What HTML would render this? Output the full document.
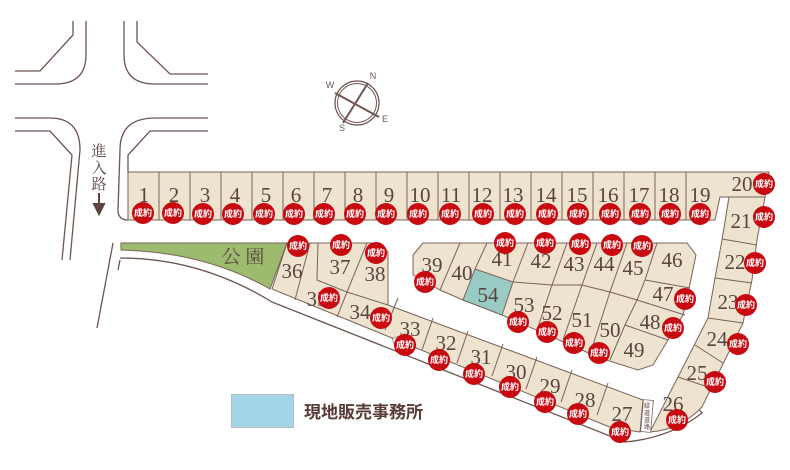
<!DOCTYPE html>
<html><head><meta charset="utf-8"><style>
html,body{margin:0;padding:0;background:#fff;}
svg{display:block;}
.n{font-family:"Liberation Serif",serif;font-size:21px;fill:#5a4440;text-anchor:middle;}
</style></head><body>
<svg width="790" height="470" viewBox="0 0 790 470" xmlns="http://www.w3.org/2000/svg">
<defs>
<g id="bd"><circle r="11" fill="#c80a10"/><text y="3.2" font-family="Liberation Sans,'Noto Sans CJK JP',sans-serif" font-size="9" font-weight="bold" fill="#ffffff" text-anchor="middle">成約</text></g>
</defs>
<g fill="none" stroke="#6e5550" stroke-width="1.3">
<path d="M73 21 V35 L40 71 H15"/>
<path d="M86 21 V55 Q86 84 55 84 H15"/>
<path d="M124 21 V55 Q124 84 155 84 H208"/>
<path d="M137 21 V42 L170 74 H208"/>
<path d="M15 118 H50 Q80 118 80 150 L70 260"/>
<path d="M15 131 H50 L72 155 L62 260"/>
<path d="M208 118 H155 Q120 118 120 150 L118 210 Q118 220 128 220"/>
<path d="M208 131 H150 L128 155 V172"/>
<path d="M113 243 L97 328"/>
<path d="M120 260 L118 270"/>
<path d="M120 258 Q200 258 272 302 L625 442 Q670 438 702 413 L697 407"/>
</g>
<g stroke="#6e5550" fill="none">
<circle cx="357" cy="103" r="22" stroke-width="1.2"/><circle cx="357" cy="103" r="19.5" stroke-width="1"/>
<path d="M368 83 L343 123 M335 93 L379 117" stroke-width="2"/>
</g>
<g font-family="Liberation Sans,sans-serif" font-size="9" fill="#6e5550" text-anchor="middle">
<text x="373" y="79">N</text><text x="330" y="88">W</text><text x="385" y="122">E</text><text x="342" y="131">S</text>
</g>
<g font-family="Liberation Serif,'Noto Serif CJK SC',serif" font-size="15" fill="#5a4440" text-anchor="middle">
<text x="99" y="156">進</text><text x="99" y="173">入</text><text x="99" y="189">路</text>
</g>
<path d="M99 193 V206 M94 204 L99 214 L104 204 Z" stroke="#5a4440" stroke-width="2" fill="#5a4440"/>
<g fill="#ede3cf" stroke="#7a625a" stroke-width="1">
<path d="M128 172 H769 L765 197 L757 240 L752 280 L743 323 L702 407 Q680 430 650 432 L652 428 L708 318 L715 278 L722 240 L729 197 L720 197 L715 220 H128 Z"/>
<path d="M287 243 H380 L388 252 V305 L643 400 L640 432 L612 428 L272 289 Z"/>
<path d="M413 255 L423 243 H687 L696 255 L687 298 L683 315 L668 340 L653 365 L638 370 L600 358 L502 315 L463 300 L440 290 L413 275 Z"/>
</g>
<path d="M121 243 H287 L270 289 Q205 252 121 250 Z" fill="#9dbb6e" stroke="#7a625a" stroke-width="1"/>
<path d="M475 269 L513 282 L502 315 L463 300 Z" fill="#99cbc4" stroke="#7a625a" stroke-width="1"/>
<g stroke="#7a625a" stroke-width="1" fill="none">
<path d="M159 172 V220 M190 172 V220 M221 172 V220 M252 172 V220 M283 172 V220 M314 172 V220 M345 172 V220 M376 172 V220 M407 172 V220 M438 172 V220 M469 172 V220 M500 172 V220 M531 172 V220 M562 172 V220 M593 172 V220 M624 172 V220 M655 172 V220 M686 172 V220"/>
<path d="M729 197 H765 M722 239 L757 245 M715 278 L752 283 M708 318 L743 323 M695 345 L723 363 M678 377 L708 387"/>
<path d="M310 243 L295 300 M318 243 L317 280 L347 292 L337 317 M367 243 L347 292 L388 305 M398 298 L385 330 M433 318 L422 350 M468 331 L457 363 M503 344 L492 376 M537 357 L526 389 M572 370 L561 402 M608 383 L597 415"/>
<path d="M460 243 L440 290 M487 243 L475 269 M528 243 L513 282 M567 243 L552 285 L537 330 M597 243 L582 285 L563 340 M627 243 L610 292 L592 348 M657 243 L645 280 L637 300 L625 325 L610 360 M513 282 L552 285 L582 285 L610 292 L637 300 M645 280 L690 288 M637 300 L685 315 M625 325 L668 340"/>
</g>
<rect x="642" y="400" width="10" height="32" fill="#fff" stroke="#7a625a" stroke-width="0.8" transform="rotate(5 647 416)"/>
<g font-family="Liberation Sans,'Noto Sans CJK JP',sans-serif" font-size="6" fill="#5a4440" text-anchor="middle">
<text x="647" y="408">緑</text><text x="647" y="415">道</text><text x="647" y="422">道</text><text x="647" y="429">路</text>
</g>
<rect x="396" y="333" width="9" height="14" fill="#fff" stroke="#7a625a" stroke-width="0.6" transform="rotate(68 400 340)"/>
<text x="243" y="263" font-family="Liberation Serif,'Noto Serif CJK SC',serif" font-size="19" fill="#5a4440" text-anchor="middle">公 園</text>
<g class="n">
<text x="144" y="202">1</text><text x="174" y="202">2</text><text x="205" y="202">3</text><text x="235" y="202">4</text><text x="266" y="202">5</text><text x="296" y="202">6</text><text x="327" y="202">7</text><text x="358" y="202">8</text><text x="389" y="202">9</text><text x="420" y="202">10</text><text x="451" y="202">11</text><text x="482" y="202">12</text><text x="513" y="202">13</text><text x="546" y="202">14</text><text x="577" y="202">15</text><text x="608" y="202">16</text><text x="639" y="202">17</text><text x="669" y="202">18</text><text x="700" y="202">19</text>
<text x="742" y="191">20</text><text x="741" y="228">21</text><text x="735" y="269">22</text><text x="728" y="309">23</text><text x="717" y="346">24</text><text x="697" y="380">25</text><text x="673" y="411">26</text>
<text x="622" y="421">27</text><text x="585" y="407">28</text><text x="550" y="393">29</text><text x="516" y="379">30</text><text x="481" y="364">31</text><text x="446" y="350">32</text><text x="410" y="336">33</text><text x="360" y="319">34</text><text x="317" y="306">35</text><text x="292" y="278">36</text><text x="340" y="274">37</text><text x="375" y="281">38</text>
<text x="432" y="272">39</text><text x="462" y="280">40</text><text x="502" y="266">41</text><text x="541" y="268">42</text><text x="574" y="271">43</text><text x="604" y="271">44</text><text x="633" y="275">45</text><text x="672" y="267">46</text><text x="663" y="301">47</text><text x="650" y="329">48</text><text x="634" y="357">49</text><text x="610" y="337">50</text><text x="582" y="327">51</text><text x="552" y="320">52</text><text x="524" y="312">53</text><text x="488" y="302">54</text>
</g>
<g>
<use href="#bd" x="143" y="213"/><use href="#bd" x="173" y="213"/><use href="#bd" x="203" y="214"/><use href="#bd" x="233" y="214"/><use href="#bd" x="264" y="214"/><use href="#bd" x="294" y="214"/><use href="#bd" x="324" y="214"/><use href="#bd" x="355" y="214"/><use href="#bd" x="386" y="214"/><use href="#bd" x="418" y="214"/><use href="#bd" x="450" y="214"/><use href="#bd" x="483" y="214"/><use href="#bd" x="515" y="214"/><use href="#bd" x="547" y="214"/><use href="#bd" x="578" y="214"/><use href="#bd" x="610" y="214"/><use href="#bd" x="640" y="214"/><use href="#bd" x="670" y="214"/><use href="#bd" x="700" y="214"/>
<use href="#bd" x="764" y="184"/><use href="#bd" x="764" y="217"/><use href="#bd" x="755" y="263"/><use href="#bd" x="746" y="305"/><use href="#bd" x="738" y="344"/><use href="#bd" x="715" y="382"/><use href="#bd" x="677" y="420"/>
<use href="#bd" x="620" y="432"/><use href="#bd" x="578" y="414"/><use href="#bd" x="545" y="402"/><use href="#bd" x="510" y="387"/><use href="#bd" x="474" y="374"/><use href="#bd" x="439" y="360"/><use href="#bd" x="405" y="345"/><use href="#bd" x="381" y="318"/><use href="#bd" x="329" y="298"/><use href="#bd" x="298" y="246"/><use href="#bd" x="341" y="245"/><use href="#bd" x="376" y="253"/>
<use href="#bd" x="425" y="282"/><use href="#bd" x="505" y="243"/><use href="#bd" x="545" y="243"/><use href="#bd" x="580" y="244"/><use href="#bd" x="612" y="245"/><use href="#bd" x="642" y="246"/><use href="#bd" x="685" y="299"/><use href="#bd" x="673" y="328"/><use href="#bd" x="599" y="353"/><use href="#bd" x="574" y="343"/><use href="#bd" x="547" y="332"/><use href="#bd" x="518" y="322"/>
</g>
<rect x="231.5" y="394.5" width="62" height="33" fill="#a3d4e8" stroke="#bbbbbb"/>
<text x="304" y="418" font-family="Liberation Sans,'Noto Sans CJK JP',sans-serif" font-size="17" font-weight="bold" fill="#5a3a36">現地販売事務所</text>
</svg>
</body></html>
